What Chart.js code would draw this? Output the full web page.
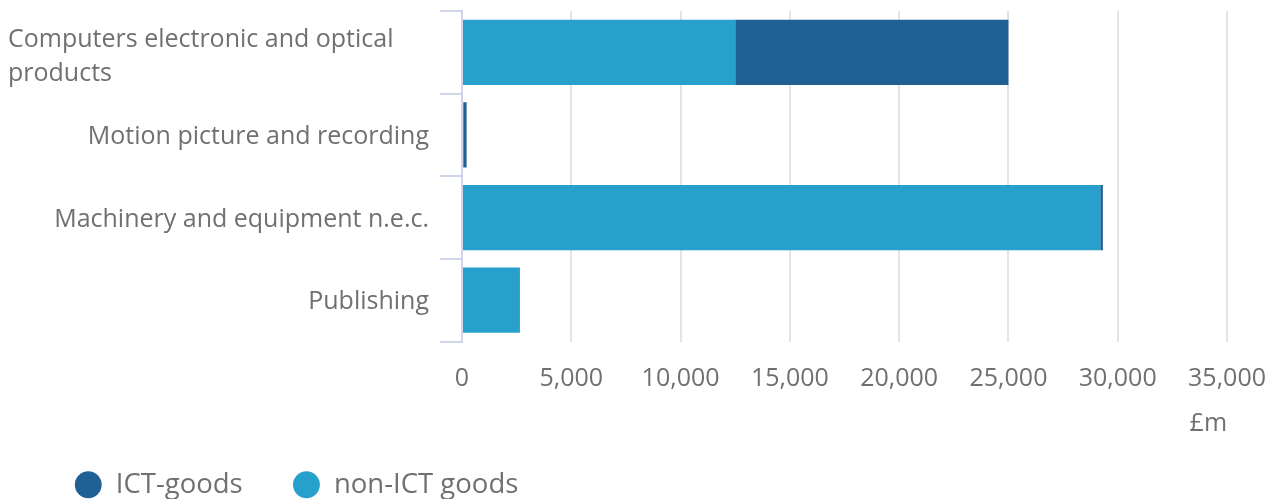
<!DOCTYPE html>
<html>
<head>
<meta charset="utf-8">
<script src="https://cdn.jsdelivr.net/npm/chart.js@4.4.1/dist/chart.umd.min.js"></script>
<style>
html, body { margin: 0; padding: 0; overflow: hidden; background: #fff; }
#wrap { position: relative; width: 1278px; height: 526px; }
</style>
</head>
<body>
<div id="wrap"><canvas id="chart"></canvas></div>
<script>
const categories = [
    ['Computers electronic and optical', 'products'],
    'Motion picture and recording',
    'Machinery and equipment n.e.c.',
    'Publishing'
];
const nonIctGoods = [12500, 90, 29200, 2650];
const ictGoods = [12500, 120, 120, 0];
const xTickValues = [0, 5000, 10000, 15000, 20000, 25000, 30000, 35000];
const unitLabel = '£m';

const darkBlue = '#206095';
const lightBlue = '#27a0cc';
const textGrey = '#707071';
const axisLavender = '#cfd5ea';
const gridGrey = '#e4e4e4';
const fontFamily = '"Open Sans", sans-serif';

// category labels: wrapped label sits flush left, single lines sit against the axis
const categoryLabels = {
    id: 'categoryLabels',
    afterDraw(chart) {
        const yScale = chart.scales.y;
        const ctx = chart.ctx;
        ctx.save();
        ctx.font = '25px ' + fontFamily;
        ctx.fillStyle = textGrey;
        ctx.textBaseline = 'middle';
        categories.forEach((label, i) => {
            const cy = yScale.getPixelForValue(i) + 2;
            if (Array.isArray(label)) {
                ctx.textAlign = 'left';
                label.forEach((line, j) => {
                    ctx.fillText(line, 8, cy + 3 + (j - (label.length - 1) / 2) * 34);
                });
            } else {
                ctx.textAlign = 'right';
                ctx.fillText(label, yScale.right - 33, cy);
            }
        });
        ctx.restore();
    }
};

// move the legend to where the original puts it (it runs off the bottom edge)
const legendPlace = {
    id: 'legendPlace',
    afterLayout(chart) {
        chart.legend.left = 24.5;
        chart.legend.top = 421;
    }
};

const ctx = document.getElementById('chart').getContext('2d');
const chart = new Chart(ctx, {
    type: 'bar',
    data: {
        labels: categories,
        datasets: [
            { label: 'non-ICT goods', data: nonIctGoods, backgroundColor: lightBlue, barPercentage: 0.79, categoryPercentage: 1 },
            { label: 'ICT-goods', data: ictGoods, backgroundColor: darkBlue, barPercentage: 0.79, categoryPercentage: 1 }
        ]
    },
    options: {
        indexAxis: 'y',
        responsive: true,
        maintainAspectRatio: false,
        animation: false,
        layout: { padding: { top: 11, right: 0, left: 0, bottom: 0 } },
        plugins: {
            tooltip: { enabled: false },
            legend: {
                position: 'bottom',
                align: 'start',
                reverse: true,
                labels: {
                    usePointStyle: true,
                    pointStyle: 'circle',
                    boxWidth: 28,
                    boxHeight: 19,
                    padding: 50,
                    color: textGrey,
                    font: { family: fontFamily, size: 27.5 }
                }
            }
        },
        scales: {
            x: {
                stacked: true,
                min: 0,
                max: 35000,
                afterBuildTicks: (scale) => { scale.ticks = xTickValues.map(v => ({ value: v })); },
                grid: { color: gridGrey, lineWidth: 2, drawTicks: true, tickLength: 10, tickColor: 'transparent' },
                border: { display: false },
                ticks: {
                    padding: 12,
                    color: textGrey,
                    font: { family: fontFamily, size: 25 },
                    callback: (v) => v.toLocaleString('en-GB')
                },
                title: {
                    display: true,
                    text: unitLabel,
                    align: 'end',
                    color: textGrey,
                    font: { family: fontFamily, size: 25 },
                    padding: { top: 3, bottom: 0 }
                }
            },
            y: {
                stacked: true,
                afterFit: (scale) => { scale.width = 462; },
                grid: { drawOnChartArea: false, color: axisLavender, lineWidth: 2, tickLength: 22, offset: true },
                border: { color: axisLavender, width: 2 },
                ticks: { display: false }
            }
        }
    },
    plugins: [categoryLabels, legendPlace]
});
</script>
</body>
</html>
